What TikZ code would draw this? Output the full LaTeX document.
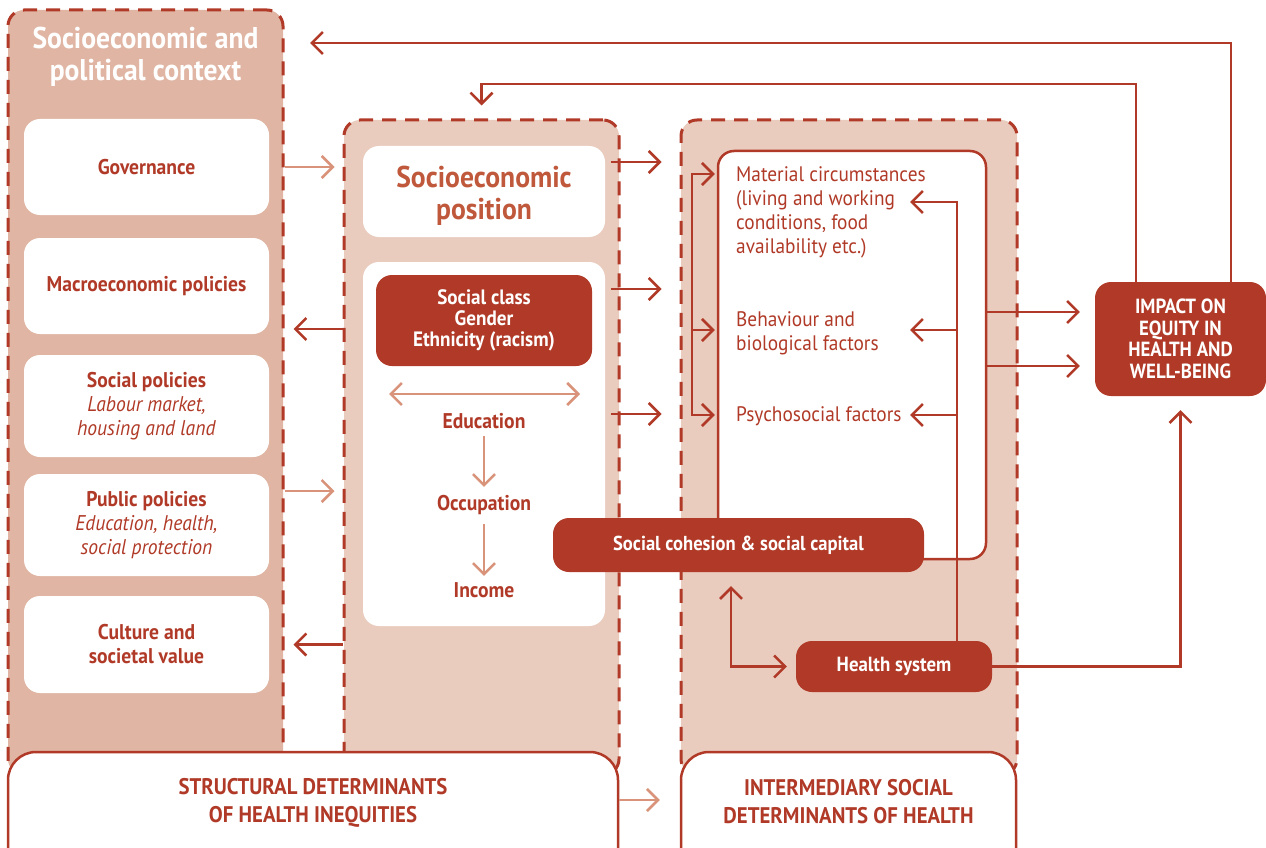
\documentclass[tikz,border=0pt]{standalone}
\usepackage{fontspec}
\setmainfont{PT Sans}[FakeStretch=0.92]
\usetikzlibrary{arrows.meta}

\definecolor{brick}{HTML}{B03A27}
\definecolor{ctxfill}{HTML}{E0B5A3}
\definecolor{panelfill}{HTML}{EACCBE}
\definecolor{salmon}{HTML}{D9937A}
\definecolor{headred}{HTML}{C0593C}

\newcommand\fsLab{\fontsize{21.3}{24}\selectfont}
\newcommand\fsFactor{\fontsize{21}{24}\selectfont}
\newcommand\fsHead{\fontsize{30}{32}\selectfont\bfseries}
\newcommand\fsCaps{\fontsize{20.5}{21.5}\selectfont\bfseries}
\newcommand\fsBottom{\fontsize{22.6}{28}\selectfont\bfseries}

\tikzset{
  barb/.tip={Straight Barb[length=11pt,width=22pt]},
  panel/.style={draw=brick, line width=3pt, dash pattern=on 14pt off 9pt,
    rounded corners=16pt, inner sep=0pt},
  whitebox/.style={fill=white, rounded corners=16pt, inner sep=0pt,
    align=center, text=brick, font=\fsLab\bfseries},
  redbox/.style={fill=brick, rounded corners=16pt, inner sep=0pt,
    align=center, text=white, font=\fontsize{20.2}{24}\selectfont\bfseries},
  framebox/.style={draw=brick, fill=white, line width=2.5pt, inner sep=0pt},
  steplabel/.style={text=brick, font=\fsLab\bfseries, inner sep=0pt,
    minimum height=24pt},
  factor/.style={text=brick, font=\fsFactor, align=left, anchor=west, inner sep=0pt},
  darr/.style={draw=brick, line width=2.5pt, -barb},
  larr/.style={draw=salmon, line width=2.5pt, -barb},
}

\begin{document}
\begin{tikzpicture}[x=1pt,y=-1pt]
\useasboundingbox (0,0) rectangle (1266,848);
\clip (0,0) rectangle (1266,848);

% ---------- the three columns ----------
\node[panel, fill=ctxfill, minimum width=275, minimum height=765] (ctx) at (145.5,392.5) {};
\node[panel, fill=panelfill, minimum width=275, minimum height=655] (mid) at (481.5,447.5) {};
\node[panel, fill=panelfill, minimum width=336, minimum height=655] (rt) at (849,447.5) {};

% ---------- socioeconomic and political context ----------
\node[text=white, font=\fsHead, align=center, inner sep=0pt] (ctxtitle) at (145.5,57)
  {Socioeconomic and\\political context};
\node[whitebox, minimum width=245, minimum height=96] (gov) at (146.5,167) {Governance};
\node[whitebox, minimum width=245, minimum height=96] (macro) at (146.5,286) {Macroeconomic policies};
\node[whitebox, minimum width=245, minimum height=102] (soc) at (146.5,406)
  {Social policies\\\textit{\mdseries Labour market,}\\\textit{\mdseries housing and land}};
\node[whitebox, minimum width=245, minimum height=102] (pub) at (146.5,525)
  {Public policies\\\textit{\mdseries Education, health,}\\\textit{\mdseries social protection}};
\node[whitebox, minimum width=245, minimum height=97] (cult) at (146.5,644.5)
  {Culture and\\societal value};

% ---------- socioeconomic position ----------
\node[whitebox, minimum width=242, minimum height=91] (sep) at (484,191.5) {};
\node[text=headred, font=\fsHead, align=center, inner sep=0pt] (septitle) at (484,195.5)
  {Socioeconomic\\position};
\node[whitebox, minimum width=242, minimum height=364] (lower) at (484,444) {};
\node[redbox, minimum width=216, minimum height=91, font=\fontsize{20.8}{21}\selectfont\bfseries] (cls) at (484,320.5)
  {Social class\\Gender\\Ethnicity (racism)};
\node[steplabel] (edu) at (484,421) {Education};
\node[steplabel] (occ) at (484,505) {Occupation};
\node[steplabel] (inc) at (484,590) {Income};

% ---------- intermediary determinants ----------
\node[framebox, rounded corners=16pt, minimum width=268, minimum height=408] (wb) at (852,355) {};
\node[factor] (mat) at (736,212) {Material circumstances\\(living and working\\conditions, food\\availability etc.)};
\node[factor] (beh) at (736,333) {Behaviour and\\biological factors};
\node[factor] (psy) at (736,416) {Psychosocial factors};
\node[redbox, minimum width=371, minimum height=54] (sc) at (738.5,545) {Social cohesion \& social capital};
\node[redbox, minimum width=196, minimum height=51, font=\fontsize{20.5}{24}\selectfont\bfseries] (hs) at (894,666.5) {Health system};
\node[redbox, minimum width=171, minimum height=114, font=\fsCaps] (imp) at (1180.5,339)
  {IMPACT ON\\EQUITY IN\\HEALTH AND\\WELL-BEING};

% ---------- bottom captions ----------
\node[framebox, rounded corners=28pt, minimum width=610, minimum height=124] (sdhbox) at (313,814) {};
\node[text=brick, font=\fsBottom, align=center, inner sep=0pt] (sdh) at (313,802.5)
  {STRUCTURAL DETERMINANTS\\OF HEALTH INEQUITIES};
\node[framebox, rounded corners=28pt, minimum width=335, minimum height=124] (idhbox) at (848.5,814) {};
\node[text=brick, font=\fsBottom, align=center, inner sep=0pt] (idh) at (848.5,801.5)
  {INTERMEDIARY SOCIAL\\DETERMINANTS OF HEALTH};

% ---------- row and free-end coordinates ----------
\coordinate (y329) at (0,329);
\coordinate (y491) at (0,491);
\coordinate (y84) at (0,84);
\coordinate (y312) at (0,312);
\coordinate (y366) at (0,366);
\coordinate (y800) at (0,800);
\coordinate (s1) at (611,162);
\coordinate (s2) at (611,289);
\coordinate (s3) at (611,414);
\coordinate (bl1) at (692,174);
\coordinate (bl2) at (692,330);
\coordinate (bl3) at (692,415);
\coordinate (br1) at (957,202);
\coordinate (br2) at (957,330);
\coordinate (br3) at (957,415);
\coordinate (tm) at (910,202);
\coordinate (tb) at (910,330);
\coordinate (tp) at (910,415);
\coordinate (fb) at (310,43);
\coordinate (dl) at (389,394);
\coordinate (dr) at (580,394);

% context <-> position
\draw[larr, shorten >=8pt] (ctx.east |- gov) -- (mid.west |- gov);
\draw[darr, shorten >=9pt] (mid.west |- y329) -- (ctx.east |- y329);
\draw[larr, shorten >=8pt] (ctx.east |- y491) -- (mid.west |- y491);
\draw[darr, shorten >=9pt] (mid.west |- cult) -- (ctx.east |- cult);

% inside the position column
\draw[larr, barb-barb] (dl) -- (dr);
\draw[larr, shorten <=3pt, shorten >=6pt] (edu.south) -- (occ.north);
\draw[larr, shorten <=7pt, shorten >=2pt] (occ.south) -- (inc.north);

% position -> intermediary
\draw[darr, shorten >=18pt] (s1) -- (rt.west |- s1);
\draw[darr, shorten >=18pt] (s2) -- (rt.west |- s2);
\draw[darr, shorten >=18pt] (s3) -- (rt.west |- s3);

% distribution to the three factor groups
\draw[darr, shorten >=2pt] (bl3) -- (bl1) -- (wb.west |- bl1);
\draw[darr, shorten >=2pt] (bl2) -- (wb.west |- bl2);
\draw[darr, shorten >=2pt] (bl1) -- (bl3) -- (wb.west |- bl3);

% health system feeding the factors
\draw[darr] ([xshift=63pt]hs.north) -- (br1) -- (tm);
\draw[darr] (br2) -- (tb);
\draw[darr] (br3) -- (tp);

% social cohesion <-> health system
\draw[darr, barb-barb, shorten <=14pt, shorten >=9pt] ([xshift=-7.5pt]sc.south) |- (hs.west);

% towards the impact
\draw[darr, shorten >=15pt] (wb.east |- y312) -- (imp.west |- y312);
\draw[darr, shorten >=15pt] (wb.east |- y366) -- (imp.west |- y366);
\draw[darr, shorten >=14pt] (hs.east) -| (imp.south);

% feedback loops
\draw[darr] ([xshift=50.5pt]imp.north) |- (fb);
\draw[darr, shorten >=13pt] ([xshift=-44.5pt]imp.north) |- (mid.north |- y84) -- (mid.north);

% structural -> intermediary
\draw[larr, shorten >=20pt] (sdhbox.east |- y800) -- (idhbox.west |- y800);
\end{tikzpicture}
\end{document}
